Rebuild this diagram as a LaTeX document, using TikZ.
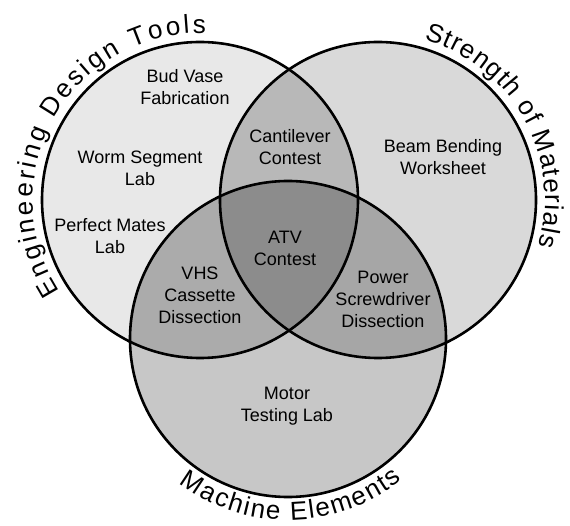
\documentclass[tikz,border=0pt]{standalone}
\usepackage{fontspec}
\setmainfont{Liberation Sans}
\usepackage{xcolor}
\usepackage{tikz}
\usetikzlibrary{positioning, calc, decorations.text}
\definecolor{venn_l}{gray}{0.91}
\definecolor{venn_r}{gray}{0.85}
\definecolor{venn_b}{gray}{0.78}
\definecolor{venn_lr}{gray}{0.72}
\definecolor{venn_lb}{gray}{0.67}
\definecolor{venn_rb}{gray}{0.65}
\definecolor{venn_all}{gray}{0.55}
\newcommand{\labelfont}{\fontsize{18}{22}\selectfont}
\newcommand{\ringfont}{\fontsize{26}{26}\selectfont}

\begin{document}
\begin{tikzpicture}[x=1pt, y=1pt,
            set/.style={draw, line width=2.6pt},
            lbl/.style={align=center, font=\labelfont, inner sep=0pt},
            ring/.style={decorate, decoration={text along path,
                         text align=fit to path}}]
            \useasboundingbox[fill=white] (0,0) rectangle (570,525);
            \coordinate (L) at (200,325);
            \coordinate (R) at (378,325);
            \coordinate (B) at (288,186);
            % single sets
            \fill[venn_l] (L) circle[radius=158];
            \fill[venn_r] (R) circle[radius=158];
            \fill[venn_b] (B) circle[radius=158];
            % overlaps
            \begin{scope}
              \clip (L) circle[radius=158];
              \fill[venn_lr] (R) circle[radius=158];
              \fill[venn_lb] (B) circle[radius=158];
            \end{scope}
            \begin{scope}
              \clip (R) circle[radius=158];
              \fill[venn_rb] (B) circle[radius=158];
              \clip (L) circle[radius=158];
              \fill[venn_all] (B) circle[radius=158];
            \end{scope}
            \draw[set] (L) circle[radius=158];
            \draw[set] (R) circle[radius=158];
            \draw[set] (B) circle[radius=158];
            % set names
            \path[ring, decoration={text={|\ringfont|Engineering Design Tools}}]
              ($(L)+(213:167)$) arc[start angle=213, end angle=88, radius=167];
            \path[ring, decoration={text={|\ringfont|Strength of Materials}}]
              ($(R)+(74:167)$) arc[start angle=74, end angle=-16, radius=167];
            \path[ring, decoration={text={|\ringfont|Machine Elements}}]
              ($(B)+(233:181)$) arc[start angle=233, end angle=309, radius=181];
            % activities
            \node[lbl] (bud) at (185,438) {Bud Vase\\Fabrication};
            \node[lbl] (worm) at (140,357) {Worm Segment\\Lab};
            \node[lbl] (mates) at (110,289) {Perfect Mates\\Lab};
            \node[lbl] (cant) at (290,378) {Cantilever\\Contest};
            \node[lbl] (beam) at (443,368) {Beam Bending\\Worksheet};
            \node[lbl] (atv) at (285,277) {ATV\\Contest};
            \node[lbl] (vhs) at (200,230) {VHS\\Cassette\\Dissection};
            \node[lbl] (power) at (383,226) {Power\\Screwdriver\\Dissection};
            \node[lbl] (motor) at (287,119) {Motor\\Testing Lab};
          \end{tikzpicture}
\end{document}
